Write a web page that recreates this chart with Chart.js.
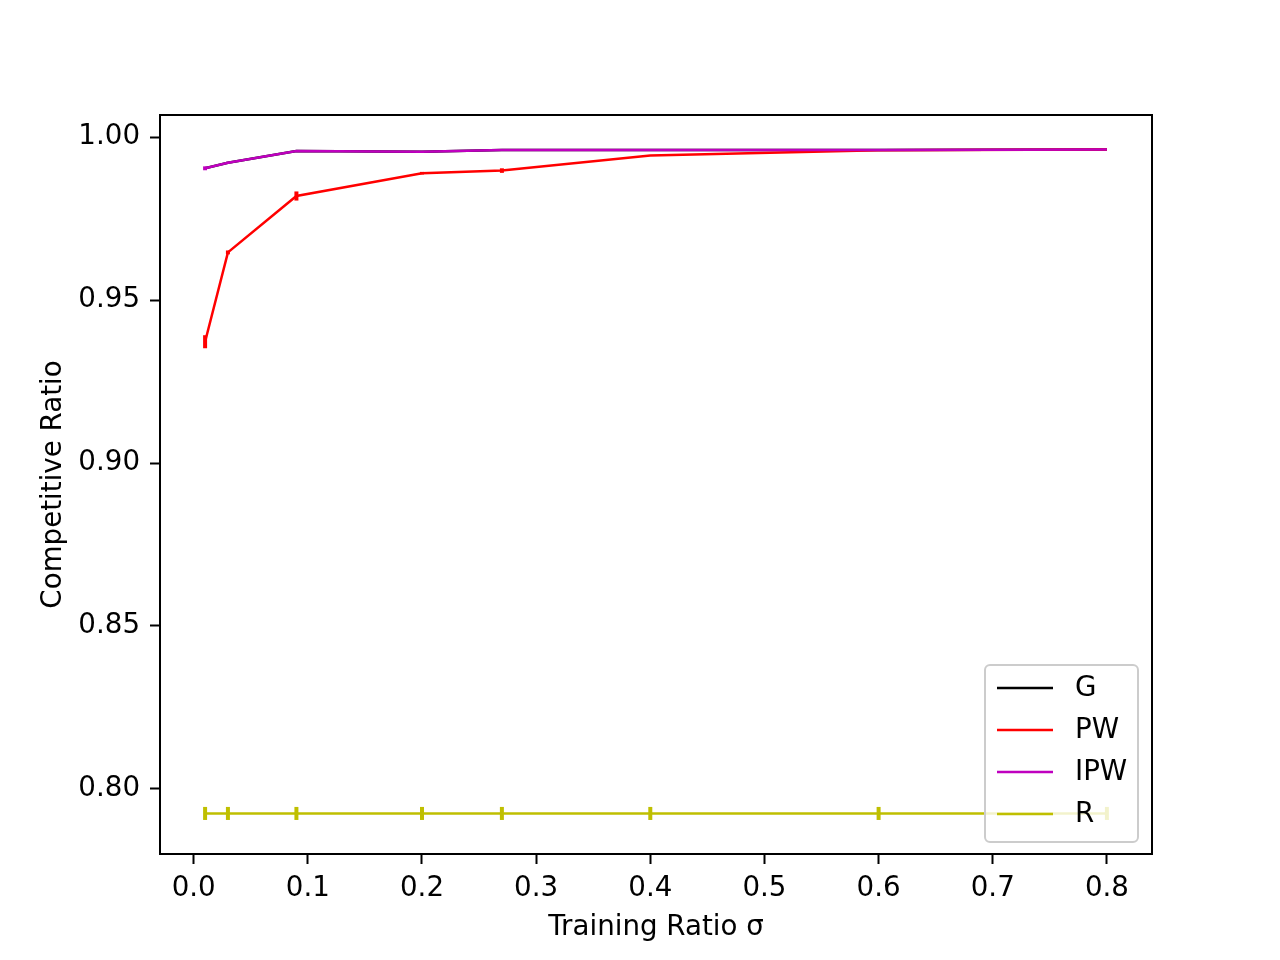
<!DOCTYPE html>
<html>
<head>
<meta charset="utf-8">
<script src="https://cdn.jsdelivr.net/npm/chart.js@4.4.0/dist/chart.umd.min.js"></script>
<style>
    html, body { margin: 0; padding: 0; background: #fff; }
    #wrap { width: 1280px; height: 960px; }
</style>
</head>
<body>
<div id="wrap"><canvas id="chart" width="1280" height="960"></canvas></div>
<script>
// ==== DONNEES ====
const sigma = [0.01, 0.03, 0.09, 0.2, 0.27, 0.4, 0.6, 0.8];

const gVals   = [0.9904, 0.9921, 0.9957, 0.9955, 0.9960, 0.9960, 0.9960, 0.9962];
const gErr    = [0, 0, 0, 0, 0, 0, 0, 0];
const pwVals  = [0.9372, 0.9646, 0.9819, 0.9889, 0.9897, 0.9943, 0.9959, 0.9962];
const pwErr   = [0.0020, 0.0006, 0.0014, 0.0004, 0.0007, 0, 0, 0];
const ipwVals = [0.9904, 0.9921, 0.9957, 0.9955, 0.9960, 0.9960, 0.9960, 0.9962];
const ipwErr  = [0.0006, 0.0003, 0, 0, 0, 0, 0, 0];
const rVals   = [0.7925, 0.7925, 0.7925, 0.7925, 0.7925, 0.7925, 0.7925, 0.7925];
const rErr    = [0.0020, 0.0020, 0.0020, 0.0020, 0.0020, 0.0020, 0.0020, 0.0020];

const xTicks = [0.0, 0.1, 0.2, 0.3, 0.4, 0.5, 0.6, 0.7, 0.8];
const yTicks = [0.80, 0.85, 0.90, 0.95, 1.00];

const FONT_PX = 27.7;

function toPoints(vals) {
    return sigma.map((x, i) => ({ x: x, y: vals[i] }));
}

function makeSet(label, vals, errs, color, order) {
    return {
        label: label,
        data: toPoints(vals),
        errors: errs,
        borderColor: color,
        backgroundColor: color,
        borderWidth: 2.5,
        pointRadius: 0,
        tension: 0,
        fill: false,
        order: order
    };
}

// Barres d'erreur verticales, dessinees juste apres chaque courbe
const errorBars = {
    id: 'errorBars',
    afterDatasetDraw(chart, args) {
        const ds = chart.data.datasets[args.index];
        if (!ds.errors) return;
        const xs = chart.scales.x, ys = chart.scales.y;
        const ctx = chart.ctx;
        ctx.save();
        ctx.strokeStyle = ds.borderColor;
        ctx.lineWidth = 4;
        ctx.lineCap = 'butt';
        ds.data.forEach((p, i) => {
            const e = ds.errors[i];
            if (!e) return;
            const px = xs.getPixelForValue(p.x);
            ctx.beginPath();
            ctx.moveTo(px, ys.getPixelForValue(p.y - e));
            ctx.lineTo(px, ys.getPixelForValue(p.y + e));
            ctx.stroke();
        });
        ctx.restore();
    }
};

// Cadre autour de la zone de tracé
const frame = {
    id: 'frame',
    afterDatasetsDraw(chart) {
        const { ctx, chartArea: a } = chart;
        ctx.save();
        ctx.strokeStyle = '#000';
        ctx.lineWidth = 2;
        ctx.strokeRect(a.left, a.top, a.right - a.left, a.bottom - a.top);
        ctx.restore();
    }
};

// Legende style matplotlib (en bas a droite, fond semi-transparent)
const boxLegend = {
    id: 'boxLegend',
    afterDraw(chart) {
        const ctx = chart.ctx;
        const a = chart.chartArea;
        const sets = chart.data.datasets;
        const w = 153, rowH = 42;
        const h = rowH * sets.length + 9;
        const x0 = a.right - 14 - w, y0 = a.bottom - 12 - h;
        ctx.save();
        ctx.beginPath();
        ctx.roundRect(x0, y0, w, h, 5);
        ctx.fillStyle = 'rgba(255,255,255,0.8)';
        ctx.fill();
        ctx.strokeStyle = '#cccccc';
        ctx.lineWidth = 2;
        ctx.stroke();
        ctx.font = FONT_PX + 'px "DejaVu Sans"';
        ctx.textBaseline = 'middle';
        ctx.textAlign = 'left';
        sets.forEach((ds, i) => {
            const cy = y0 + 23 + i * rowH;
            ctx.beginPath();
            ctx.strokeStyle = ds.borderColor;
            ctx.lineWidth = 2.5;
            ctx.moveTo(x0 + 12, cy);
            ctx.lineTo(x0 + 68, cy);
            ctx.stroke();
            ctx.fillStyle = '#000';
            ctx.fillText(ds.label, x0 + 90, cy + 1);
        });
        ctx.restore();
    }
};

Chart.defaults.font.family = '"DejaVu Sans"';
Chart.defaults.font.size = FONT_PX;
Chart.defaults.color = '#000';

new Chart(document.getElementById('chart'), {
    type: 'line',
    data: {
        datasets: [
            makeSet('G', gVals, gErr, '#000000', 4),
            makeSet('PW', pwVals, pwErr, '#ff0000', 3),
            makeSet('IPW', ipwVals, ipwErr, '#bf00bf', 2),
            makeSet('R', rVals, rErr, '#bfbf00', 1)
        ]
    },
    options: {
        responsive: false,
        animation: false,
        devicePixelRatio: 1,
        layout: { padding: { top: 115, right: 128, left: 0, bottom: 0 } },
        plugins: {
            legend: { display: false },
            tooltip: { enabled: false }
        },
        scales: {
            x: {
                type: 'linear',
                min: -0.0295,
                max: 0.8395,
                afterFit(scale) { scale.height = 106; },
                afterBuildTicks(scale) { scale.ticks = xTicks.map(v => ({ value: v })); },
                ticks: {
                    padding: 8,
                    maxRotation: 0,
                    autoSkip: false,
                    callback: v => v.toFixed(1)
                },
                grid: {
                    drawOnChartArea: false,
                    tickLength: 10,
                    tickWidth: 2,
                    tickColor: '#000'
                },
                border: { display: false },
                title: {
                    display: true,
                    text: 'Training Ratio σ',
                    padding: { top: 0, bottom: 15.5 }
                }
            },
            y: {
                type: 'linear',
                min: 0.78006,
                max: 1.00675,
                afterFit(scale) { scale.width = 160; },
                afterBuildTicks(scale) { scale.ticks = yTicks.map(v => ({ value: v })); },
                ticks: {
                    padding: 10,
                    autoSkip: false,
                    callback: v => v.toFixed(2)
                },
                grid: {
                    drawOnChartArea: false,
                    tickLength: 10,
                    tickWidth: 2,
                    tickColor: '#000'
                },
                border: { display: false },
                title: {
                    display: true,
                    text: 'Competitive Ratio',
                    padding: { top: 37.5, bottom: 0 }
                }
            }
        }
    },
    plugins: [errorBars, frame, boxLegend]
});
</script>
</body>
</html>
